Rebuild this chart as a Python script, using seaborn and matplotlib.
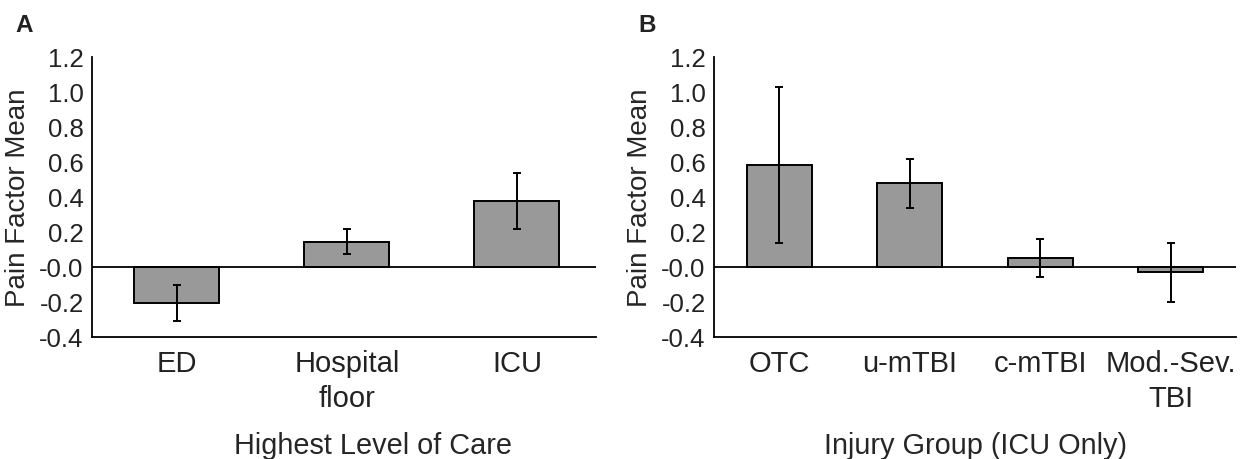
import matplotlib
matplotlib.use("Agg")
import matplotlib.pyplot as plt
import seaborn as sns
import pandas as pd
import numpy as np

# ---- data ----
care_levels = ["ED", "Hospital\nfloor", "ICU"]
care_means = [-0.205, 0.145, 0.375]
care_err = [0.105, 0.073, 0.16]

injury_groups = ["OTC", "u-mTBI", "c-mTBI", "Mod.-Sev.\nTBI"]
injury_means = [0.583, 0.478, 0.051, -0.03]
injury_err = [0.445, 0.14, 0.11, 0.17]

y_ticks = [-0.4, -0.2, 0.0, 0.2, 0.4, 0.6, 0.8, 1.0, 1.2]
y_tick_labels = ["-0.4", "-0.2", "-0.0", "0.2", "0.4", "0.6", "0.8", "1.0", "1.2"]

sns.set_style("white")
plt.rcParams['font.family'] = ['Liberation Sans', 'DejaVu Sans']
plt.rcParams['text.color'] = '#222222'

fig = plt.figure(figsize=(12.46, 4.6), dpi=100)
W, H = 1246, 460
axA = fig.add_axes([92 / W, 1 - 338 / H, 504 / W, 280 / H])
axB = fig.add_axes([714 / W, 1 - 338 / H, 522 / W, 280 / H])

BAR = "#999999"
YTICK_FS = 18.5
XTICK_FS = 21
YLAB_FS = 20
XLAB_FS = 20.8


def panel(ax, cats, means, errs, xlabel, xlim, xlab_x):
    df = pd.DataFrame({"cat": cats, "val": means})
    sns.barplot(data=df, x="cat", y="val", order=cats, color=BAR, width=0.5,
                edgecolor="black", linewidth=1.4, errorbar=None, saturation=1, ax=ax)
    ax.errorbar(np.arange(len(cats)), means, yerr=errs, fmt="none", ecolor="black",
                elinewidth=1.4, capsize=3, capthick=1.4, zorder=5)
    ax.axhline(0, color="black", lw=1.3, zorder=4)
    ax.set_ylim(-0.4, 1.2)
    ax.set_xlim(*xlim)
    ax.set_yticks(y_ticks)
    ax.set_yticklabels(y_tick_labels, fontsize=YTICK_FS, color="#222222")
    ax.tick_params(axis="y", length=0, pad=6)
    ax.tick_params(axis="x", length=0, labelsize=XTICK_FS, labelcolor="#222222", pad=9)
    for lbl in ax.get_xticklabels():
        lbl.set_linespacing(1.3)
    for s in ["top", "right"]:
        ax.spines[s].set_visible(False)
    for s in ["left", "bottom"]:
        ax.spines[s].set_color("black")
        ax.spines[s].set_linewidth(1.3)
    ax.set_ylabel("Pain Factor Mean", fontsize=YLAB_FS, labelpad=6)
    ax.set_xlabel(xlabel, fontsize=XLAB_FS)
    ax.xaxis.set_label_coords(xlab_x, -0.335)


panel(axA, care_levels, care_means, care_err, "Highest Level of Care", (-0.5, 2.465), 0.557)
panel(axB, injury_groups, injury_means, injury_err, "Injury Group (ICU Only)", (-0.5, 3.5), 0.5)

fig.text(15 / W, 1 - 32 / H, "A", fontsize=17.5, fontweight="bold", color="#222222")
fig.text(638 / W, 1 - 32 / H, "B", fontsize=17.5, fontweight="bold", color="#222222")

fig.savefig("out.png", dpi=100)
